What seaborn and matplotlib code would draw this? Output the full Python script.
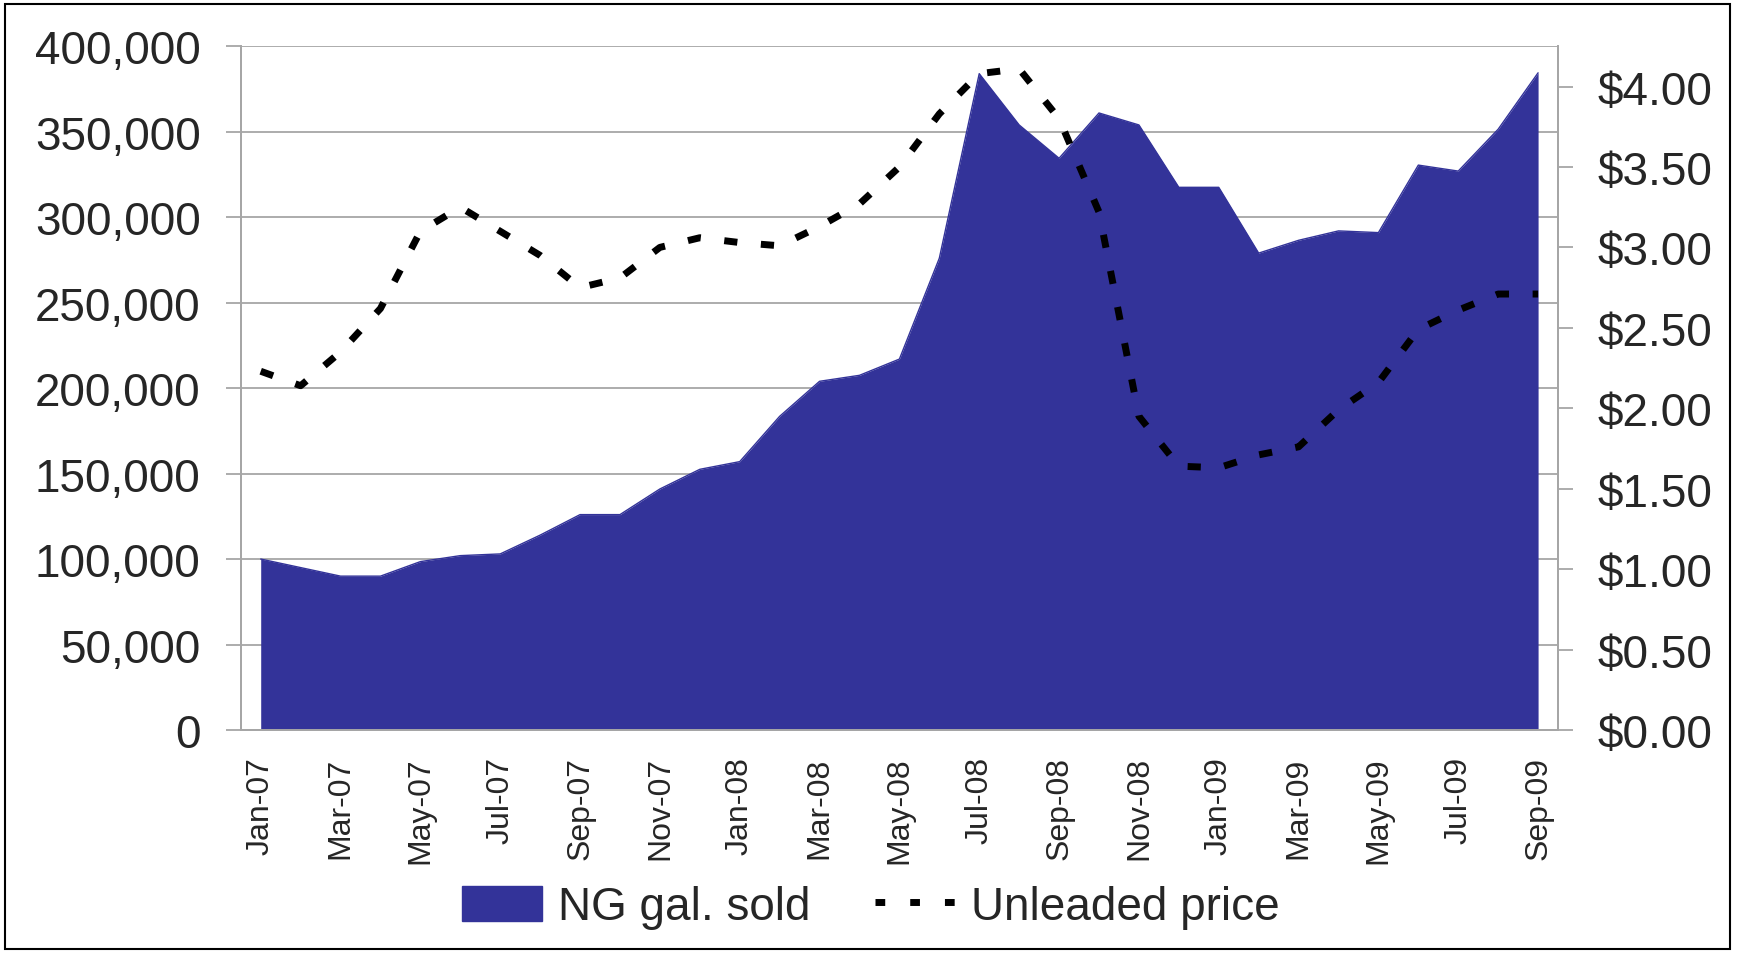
import matplotlib
matplotlib.use("Agg")
import matplotlib.pyplot as plt
from matplotlib.patches import Patch, Rectangle
from matplotlib.lines import Line2D
from matplotlib.ticker import FuncFormatter
import seaborn as sns
import pandas as pd
import numpy as np

# data
months = ["Jan-07", "Feb-07", "Mar-07", "Apr-07", "May-07", "Jun-07", "Jul-07", "Aug-07",
          "Sep-07", "Oct-07", "Nov-07", "Dec-07", "Jan-08", "Feb-08", "Mar-08", "Apr-08",
          "May-08", "Jun-08", "Jul-08", "Aug-08", "Sep-08", "Oct-08", "Nov-08", "Dec-08",
          "Jan-09", "Feb-09", "Mar-09", "Apr-09", "May-09", "Jun-09", "Jul-09", "Aug-09",
          "Sep-09"]
ng_gal = [100000, 95000, 90000, 90000, 98500, 102000, 103000, 114000,
          126000, 126000, 141000, 152500, 157000, 183500, 204000, 207500,
          217000, 276000, 384000, 354000, 334500, 361000, 354000, 317500,
          317500, 279000, 286500, 292000, 291000, 330500, 327000, 351500,
          384500]
unleaded = [2.23, 2.14, 2.35, 2.62, 3.10, 3.25, 3.10, 2.95,
            2.75, 2.81, 3.00, 3.06, 3.03, 3.01, 3.13, 3.27,
            3.50, 3.83, 4.08, 4.11, 3.80, 3.22, 1.95, 1.64,
            1.63, 1.71, 1.76, 1.99, 2.16, 2.49, 2.61, 2.71,
            2.71]

df = pd.DataFrame({"month": months, "gal": ng_gal, "price": unleaded})
df["pos"] = np.arange(len(df))

sns.set_style("white")
plt.rcParams["font.family"] = ["Liberation Sans", "DejaVu Sans"]

BLUE = "#333399"
GRID = "#a6a6a6"
DASH = [1.9, 3.4]

fig = plt.figure(figsize=(17.42, 9.54), dpi=100)
ax = fig.add_axes([0.1382, 0.2338, 0.8944 - 0.1382, 0.9504 - 0.2338])

# area series
ax.fill_between(df["pos"], 0, df["gal"], color=BLUE, lw=0, zorder=2)
sns.lineplot(data=df, x="pos", y="gal", ax=ax, color=BLUE, lw=1, zorder=2)

ax.set_xlim(-0.5, len(df) - 0.5)
ax.set_ylim(0, 400000)
ax.set_yticks(np.arange(0, 400001, 50000))
ax.yaxis.set_major_formatter(FuncFormatter(lambda v, p: f"{v:,.0f}"))
ax.grid(axis="y", color=GRID, lw=1.3)
ax.set_axisbelow(True)

ax.set_xticks(df["pos"][::2])
ax.set_xticklabels(df["month"][::2], rotation=90, fontsize=23)
ax.set_xticks(np.arange(-0.5, len(df) - 1, 2), minor=True)
ax.tick_params(axis="x", which="major", length=0, pad=19)
ax.tick_params(axis="x", which="minor", length=7.5, width=1.3, color=GRID, direction="out")
ax.tick_params(axis="y", which="major", length=10.8, width=1.3, color=GRID,
               labelsize=33, pad=18, left=True)
ax.set_xlabel("")
ax.set_ylabel("")

for s in ["left", "bottom", "right"]:
    ax.spines[s].set_color(GRID)
    ax.spines[s].set_linewidth(1.3)
ax.spines["top"].set_visible(False)

# price series on secondary axis
ax2 = ax.twinx()
sns.lineplot(data=df, x="pos", y="price", ax=ax2, color="black", lw=5)
ln = ax2.lines[0]
ln.set_dashes(DASH)
ln.set_dash_capstyle("butt")
ax2.set_ylim(0, 4.25)
ax2.set_yticks(np.arange(0, 4.01, 0.5))
ax2.yaxis.set_major_formatter(FuncFormatter(lambda v, p: f"${v:.2f}"))
ax2.tick_params(axis="y", length=10.8, width=1.3, color=GRID, labelsize=33, pad=18)
ax2.set_ylabel("")
for s in ["left", "bottom", "right"]:
    ax2.spines[s].set_color(GRID)
    ax2.spines[s].set_linewidth(1.3)
ax2.spines["top"].set_visible(False)

handles = [
    Patch(facecolor=BLUE, edgecolor=BLUE),
    Line2D([0], [0], color="black", lw=5, dashes=[1.4, 3.6], dash_capstyle="butt"),
]
fig.legend(handles, ["NG gal. sold", "Unleaded price"], loc="center",
           bbox_to_anchor=(0.5, 0.048), ncol=2, frameon=False, fontsize=33,
           handlelength=1.75, handleheight=0.8, handletextpad=0.35, columnspacing=1.4)

# outer frame
fig.patches.append(Rectangle((5 / 1742, 4 / 954), 1725 / 1742, 945 / 954,
                             transform=fig.transFigure, fill=False,
                             edgecolor="black", lw=1.5))

fig.savefig("out.png", dpi=100)
